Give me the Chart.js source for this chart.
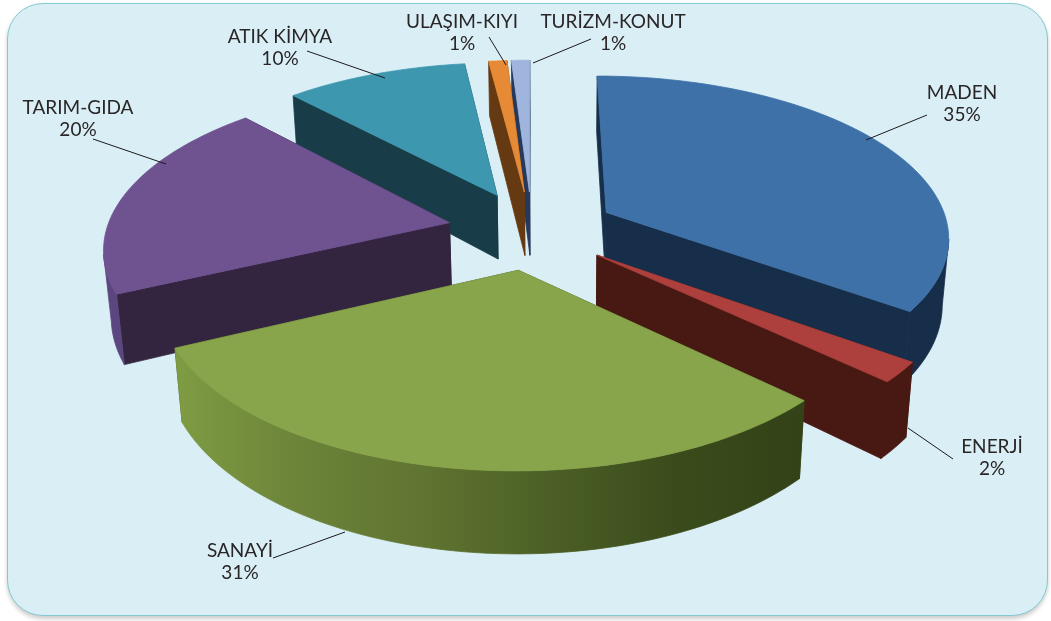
<!DOCTYPE html>
<html lang="tr">
<head>
<meta charset="utf-8">
<title>Sektör dağılımı</title>
<script src="https://cdn.jsdelivr.net/npm/chart.js@4/dist/chart.umd.min.js"></script>
<style>
  html, body { margin: 0; padding: 0; background: #fff; }
  #panel {
    position: absolute; left: 7px; top: 3px; width: 1039px; height: 611px;
    background: #d9eef5; border: 1.5px solid #84c9d2; border-radius: 36px;
    box-shadow: 0 3px 4px rgba(0, 0, 0, 0.2);
  }
  #pie { position: absolute; left: 0; top: 0; }
</style>
</head>
<body>
<div id="panel"></div>
<canvas id="pie" width="1051" height="621"></canvas>
<script>
// Data, clockwise from twelve o'clock
const categories = ['MADEN', 'ENERJİ', 'SANAYİ', 'TARIM-GIDA', 'ATIK KİMYA', 'ULAŞIM-KIYI', 'TURİZM-KONUT'];
const shares = [35, 2, 31, 20, 10, 1, 1];

// Slice styling
const explode = [205, 200, 205, 205, 205, 205, 205];
const topColors = ['#3d71a8', '#ad403c', '#89a54b', '#6f5290', '#3d97ae', '#e68a35', '#a0b5dd'];
const wallColors = ['#172e4a', '#481813', '#3a4a1c', '#332440', '#183c48', '#653a12', '#24395c'];
const rimColors = [
  ['#172e4a'],
  ['#481813'],
  ['#7f9c43', '#6c8339', '#5f7430', '#4b5f26', '#3a4b1b', '#334217'],
  ['#5c4680'],
  ['#183c48'],
  ['#653a12'],
  ['#24395c']
];

// Label placement: text centre, then leader line from and to
const labelCentres = [[962, 93], [992, 447], [240, 551], [78, 108], [280, 37], [462, 22], [613, 22]];
const leaderLines = [
  [[927, 115], [866, 140]],
  [[953, 459], [908, 428]],
  [[273, 558], [345, 532]],
  [[93, 139], [166, 164]],
  [[307, 51], [385, 78]],
  [[489, 37], [506, 65]],
  [[591, 39], [533, 63]]
];

// Perspective of the pie plane on the page
const view = { cx: 532, cy: 230, rx: 343, ry: 160, persp: 0.14, depth: 66, vanishX: 560, lean: 0.00025 };

function project(u, v) {
  const s = 1 / (1 - view.persp * v);
  return { x: view.cx + view.rx * u * s, y: view.cy + view.ry * v * s, s: s };
}

function lower(p) {
  const d = view.depth * Math.pow(p.s, 1.2);
  return { x: p.x + (view.vanishX - p.x) * d * view.lean, y: p.y + d };
}

function tracePath(ctx, pts) {
  ctx.beginPath();
  pts.forEach((p, i) => (i ? ctx.lineTo(p.x, p.y) : ctx.moveTo(p.x, p.y)));
  ctx.closePath();
}

function fillPoly(ctx, pts, fill) {
  tracePath(ctx, pts);
  ctx.fillStyle = fill;
  ctx.strokeStyle = fill;
  ctx.lineWidth = 0.8;
  ctx.fill();
  ctx.stroke();
}

function drawSlice(ctx, el, idx) {
  const mid = (el.startAngle + el.endAngle) / 2;
  const o = (el.options.offset / 4) / el.outerRadius;
  const ou = Math.cos(mid) * o;
  const ov = Math.sin(mid) * o;
  const apex = project(ou, ov);
  const arc = [];
  const steps = 72;
  for (let i = 0; i <= steps; i++) {
    const a = el.startAngle + (el.endAngle - el.startAngle) * i / steps;
    arc.push(project(Math.cos(a) + ou, Math.sin(a) + ov));
  }
  const first = arc[0];
  const last = arc[arc.length - 1];

  // radial cut faces
  fillPoly(ctx, [apex, first, lower(first), lower(apex)], wallColors[idx]);
  fillPoly(ctx, [apex, last, lower(last), lower(apex)], wallColors[idx]);

  // outer rim, only the part turned to the viewer
  const front = arc.filter((p, i) => (i < steps ? arc[i + 1].x < p.x : arc[i - 1].x > p.x));
  if (front.length > 1) {
    const stops = rimColors[idx];
    let fill = stops[0];
    if (stops.length > 1) {
      const grad = ctx.createLinearGradient(last.x, 0, first.x, 0);
      stops.forEach((c, i) => grad.addColorStop(i / (stops.length - 1), c));
      fill = grad;
    }
    fillPoly(ctx, front.concat(front.map(lower).reverse()), fill);
  }

  // top face
  fillPoly(ctx, [apex].concat(arc), topColors[idx]);
}

const pie3d = {
  id: 'pie3d',
  // the library works out the arcs, the plugin puts them on the tilted plane
  beforeDatasetDraw(chart) {
    const ctx = chart.ctx;
    const arcs = chart.getDatasetMeta(0).data;
    const order = arcs.map((el, i) => i).sort((a, b) => {
      const ma = (arcs[a].startAngle + arcs[a].endAngle) / 2;
      const mb = (arcs[b].startAngle + arcs[b].endAngle) / 2;
      return Math.sin(ma) - Math.sin(mb);
    });
    order.forEach(i => drawSlice(ctx, arcs[i], i));
    return false;
  },
  afterDraw(chart) {
    const ctx = chart.ctx;
    ctx.save();
    ctx.strokeStyle = '#1c1a1b';
    ctx.lineWidth = 1;
    leaderLines.forEach(line => {
      ctx.beginPath();
      ctx.moveTo(line[0][0], line[0][1]);
      ctx.lineTo(line[1][0], line[1][1]);
      ctx.stroke();
    });
    ctx.fillStyle = '#2a2627';
    ctx.font = '19px Lato, sans-serif';
    ctx.textAlign = 'center';
    ctx.textBaseline = 'middle';
    categories.forEach((name, i) => {
      const [x, y] = labelCentres[i];
      ctx.fillText(name, x, y);
      ctx.fillText(shares[i] + '%', x, y + 22);
    });
    ctx.restore();
  }
};

new Chart(document.getElementById('pie').getContext('2d'), {
  type: 'pie',
  data: {
    labels: categories,
    datasets: [{
      data: shares,
      backgroundColor: topColors,
      offset: explode,
      borderWidth: 0
    }]
  },
  options: {
    responsive: false,
    animation: false,
    plugins: {
      legend: { display: false },
      tooltip: { enabled: false }
    }
  },
  plugins: [pie3d]
});
</script>
</body>
</html>
